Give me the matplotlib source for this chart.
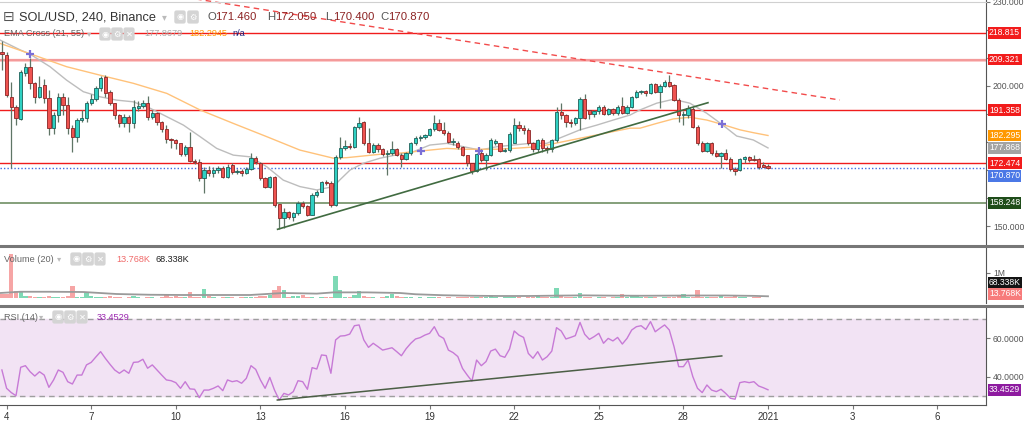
import numpy as np
import matplotlib.pyplot as plt
from matplotlib.lines import Line2D

plt.rcParams['font.family'] = ['Liberation Sans', 'DejaVu Sans']

# 4h candles, x axis is "day of December"; first candle opens Dec 3 20:00
first_candle = 3 + 20 / 24
step = 4 / 24

opens = [
    212.0, 211.0, 195.9, 192.6, 188.1, 204.4, 206.6, 200.9, 196.1, 200.3,
    195.5, 184.8, 189.6, 196.1, 193.2, 184.8, 181.9, 187.8, 188.4, 193.7,
    195.2, 199.1, 203.3, 197.9, 193.7, 189.6, 186.6, 189.0, 186.6, 192.2,
    192.8, 194.0, 188.8, 190.2, 187.2, 184.5, 180.9, 180.7, 179.5, 175.6,
    178.3, 173.3, 173.0, 167.0, 170.0, 168.8, 170.0, 170.8, 167.6, 171.8,
    169.4, 169.8, 169.0, 170.3, 174.2, 172.6, 167.0, 164.1, 167.6, 157.9,
    152.8, 155.2, 153.4, 154.6, 158.1, 157.2, 154.0, 161.1, 162.3, 165.8,
    165.5, 157.5, 174.7, 177.7, 178.7, 178.1, 185.4, 187.0, 179.7, 176.5,
    178.9, 177.4, 175.6, 176.2, 177.4, 175.4, 173.8, 175.9, 179.5, 181.3,
    181.6, 182.5, 184.5, 186.9, 184.3, 183.3, 180.1, 179.5, 178.1, 175.4,
    172.4, 169.6, 176.0, 173.6, 175.4, 179.8, 179.5, 176.9, 177.2, 179.7,
    186.0, 184.9, 184.3, 179.7, 177.4, 180.7, 177.7, 177.4, 180.7, 190.8,
    189.6, 187.2, 186.6, 188.4, 195.2, 191.4, 189.9, 191.1, 192.6, 189.9,
    191.6, 190.2, 192.8, 190.4, 192.6, 196.1, 197.9, 198.2, 197.3, 200.6,
    197.9, 199.9, 201.5, 200.3, 194.9, 189.6, 189.6, 191.7, 185.4, 179.7,
    176.9, 179.5, 175.9, 175.0, 176.2, 174.0, 170.2, 170.0, 173.8, 174.5,
    173.8, 174.0, 171.8, 171.46]
highs = [
    216.0, 212.2, 201.5, 193.0, 205.6, 208.0, 209.8, 201.5, 203.5, 202.5,
    198.5, 190.5, 197.5, 197.5, 196.0, 186.0, 188.5, 191.4, 194.5, 197.0,
    200.0, 203.5, 203.7, 198.5, 194.0, 190.0, 190.0, 189.5, 195.0, 194.5,
    195.0, 196.4, 191.5, 190.5, 187.5, 186.0, 181.5, 181.0, 179.8, 179.0,
    183.5, 174.0, 174.0, 171.0, 171.5, 171.0, 171.5, 171.5, 172.0, 172.5,
    170.5, 170.5, 171.0, 176.0, 175.0, 173.0, 167.5, 168.0, 168.0, 158.0,
    156.5, 155.5, 155.0, 158.8, 159.0, 157.5, 161.8, 163.0, 166.2, 166.5,
    166.0, 175.5, 181.9, 180.7, 179.5, 185.8, 188.8, 187.5, 184.8, 179.5,
    179.5, 178.0, 177.0, 180.5, 178.0, 176.0, 176.5, 180.0, 182.0, 182.5,
    183.0, 185.0, 189.5, 188.0, 187.0, 184.0, 181.5, 180.5, 178.5, 175.5,
    172.5, 176.0, 177.6, 176.0, 181.5, 181.0, 179.8, 178.0, 183.5, 188.5,
    187.4, 186.0, 185.0, 180.0, 181.0, 181.5, 178.5, 181.0, 192.6, 193.7,
    190.0, 188.0, 189.0, 196.0, 197.2, 191.5, 191.5, 193.0, 193.0, 192.0,
    192.0, 193.0, 196.0, 193.0, 196.5, 198.5, 198.5, 198.6, 201.0, 201.0,
    200.5, 202.0, 204.0, 200.8, 195.5, 191.0, 193.0, 192.5, 186.0, 180.5,
    180.0, 180.0, 177.0, 176.5, 177.4, 174.5, 171.0, 174.2, 175.0, 175.0,
    175.5, 174.2, 172.8, 172.05]
lows = [
    205.8, 196.1, 170.6, 186.0, 187.8, 203.5, 199.0, 193.7, 195.5, 194.0,
    182.5, 183.0, 187.0, 189.5, 183.0, 176.5, 180.0, 187.0, 187.0, 193.0,
    194.5, 198.0, 196.0, 193.0, 188.0, 185.5, 185.5, 183.5, 185.0, 191.0,
    192.0, 187.8, 188.0, 186.0, 183.5, 179.5, 178.0, 177.5, 175.0, 175.0,
    173.0, 172.0, 166.0, 161.7, 168.0, 167.5, 169.0, 167.0, 167.0, 168.5,
    168.5, 168.0, 168.5, 170.0, 172.0, 166.5, 163.5, 163.5, 157.0, 148.9,
    149.5, 152.5, 152.0, 154.0, 156.5, 153.5, 153.8, 160.5, 162.0, 164.5,
    157.0, 157.2, 174.0, 177.0, 177.5, 177.8, 184.5, 179.0, 176.0, 176.0,
    176.5, 175.0, 168.2, 175.5, 175.0, 171.1, 173.5, 175.5, 179.0, 180.5,
    181.0, 182.0, 184.0, 184.0, 182.5, 179.5, 179.0, 177.5, 175.0, 171.5,
    168.5, 169.3, 173.0, 170.0, 175.0, 179.0, 176.5, 176.5, 176.5, 179.5,
    184.0, 183.0, 179.0, 176.5, 176.5, 176.5, 176.0, 176.5, 180.0, 188.0,
    185.5, 185.5, 186.0, 184.3, 188.0, 188.0, 189.0, 190.0, 189.5, 189.5,
    189.5, 189.5, 190.0, 190.0, 192.0, 195.5, 197.0, 196.5, 197.0, 197.5,
    192.2, 199.5, 199.5, 194.5, 187.0, 186.0, 188.5, 185.0, 179.0, 176.5,
    176.5, 175.5, 174.5, 170.8, 173.5, 169.5, 168.4, 169.5, 172.5, 173.0,
    173.2, 170.5, 171.0, 170.4]
closes = [
    211.5, 196.7, 192.3, 188.4, 205.0, 206.6, 200.9, 196.1, 199.7, 195.5,
    184.8, 189.6, 196.1, 193.2, 184.8, 181.9, 187.8, 188.4, 193.7, 195.2,
    199.1, 202.7, 197.6, 193.7, 189.6, 186.6, 189.0, 186.6, 192.6, 192.8,
    194.0, 188.8, 190.4, 187.2, 184.5, 180.9, 180.7, 179.5, 175.6, 178.3,
    173.3, 173.0, 167.0, 170.0, 168.8, 170.0, 170.8, 167.6, 171.2, 169.4,
    169.8, 169.0, 170.3, 174.2, 173.0, 167.0, 164.1, 167.6, 157.5, 152.8,
    155.2, 153.4, 154.6, 158.1, 157.2, 154.0, 161.1, 162.3, 165.8, 165.5,
    157.5, 174.7, 177.7, 178.7, 178.1, 185.4, 186.6, 179.7, 176.5, 178.9,
    177.4, 175.6, 176.2, 177.4, 175.4, 173.8, 175.9, 179.5, 181.3, 181.6,
    182.5, 184.5, 186.6, 184.3, 183.3, 180.1, 180.5, 178.1, 175.4, 172.4,
    169.6, 175.7, 173.6, 175.4, 180.7, 180.3, 176.9, 177.2, 182.8, 186.0,
    184.9, 184.3, 179.7, 177.4, 180.7, 177.7, 177.4, 180.7, 190.8, 189.6,
    187.2, 186.6, 188.4, 195.2, 188.4, 189.9, 191.1, 192.6, 189.9, 191.6,
    190.2, 192.6, 190.4, 192.6, 196.1, 197.9, 198.2, 197.3, 200.6, 197.9,
    199.9, 201.5, 200.0, 194.9, 189.6, 189.9, 192.0, 185.4, 179.7, 176.9,
    179.5, 175.9, 175.0, 176.2, 174.0, 170.2, 169.8, 173.8, 174.5, 173.6,
    173.6, 171.0, 171.2, 170.87]
# volume in thousands
volumes = [
    180, 170, 1760, 270, 240, 90, 70, 40, 30, 50,
    70, 40, 30, 40, 70, 470, 30, 40, 200, 90,
    40, 30, 40, 90, 40, 30, 20, 30, 90, 30,
    20, 40, 30, 20, 60, 170, 30, 70, 40, 30,
    230, 60, 50, 360, 90, 30, 20, 30, 40, 30,
    20, 30, 40, 60, 40, 90, 90, 120, 330, 470,
    330, 60, 90, 90, 120, 40, 40, 20, 40, 30,
    60, 890, 330, 40, 50, 130, 270, 90, 40, 30,
    20, 30, 90, 170, 90, 60, 30, 40, 20, 30,
    20, 30, 60, 40, 20, 30, 20, 30, 40, 60,
    60, 50, 30, 40, 80, 30, 20, 30, 40, 50,
    30, 20, 30, 40, 80, 30, 40, 40, 400, 100,
    40, 30, 40, 200, 60, 30, 20, 30, 40, 20,
    30, 30, 160, 40, 130, 130, 40, 30, 40, 30,
    20, 40, 40, 60, 130, 160, 40, 40, 330, 60,
    40, 30, 40, 110, 30, 40, 90, 40, 30, 20,
    30, 30, 20, 13.768]
rsi = [
    43.6, 34.2, 32.0, 30.4, 45.0, 45.8, 42.7, 40.5, 42.7, 41.0,
    34.7, 38.5, 43.6, 42.4, 37.6, 36.4, 41.0, 41.0, 46.2, 47.5,
    50.3, 53.0, 49.6, 46.5, 43.6, 41.9, 43.6, 41.9, 47.5, 47.7,
    49.1, 44.5, 46.2, 43.6, 41.0, 38.5, 38.1, 37.1, 34.2, 37.6,
    33.9, 33.7, 29.4, 33.3, 33.3, 34.2, 35.4, 33.0, 38.5, 37.6,
    38.1, 36.8, 39.3, 45.8, 43.9, 38.5, 34.2, 39.8, 33.3, 28.2,
    31.6, 30.8, 32.5, 38.1, 37.6, 33.7, 44.8, 44.1, 51.3, 51.0,
    41.9, 59.0, 61.0, 61.2, 62.0, 66.3, 66.7, 59.0, 55.2, 57.3,
    55.6, 53.8, 54.4, 55.0, 53.0, 50.9, 54.5, 57.3, 59.5, 60.2,
    61.5, 62.4, 65.8, 61.2, 59.8, 53.8, 52.5, 50.5, 44.4, 41.0,
    37.9, 48.7, 45.8, 47.9, 53.3, 54.3, 50.9, 50.1, 54.3, 63.6,
    61.5, 60.3, 52.1, 49.6, 53.0, 48.7, 50.4, 53.3, 65.3, 63.6,
    59.5, 60.3, 61.2, 68.0, 61.9, 59.3, 60.7, 62.4, 57.3, 59.8,
    58.5, 60.3, 56.9, 59.8, 64.1, 65.8, 66.3, 64.4, 68.4, 63.2,
    65.0, 66.7, 64.1, 55.6, 45.3, 45.3, 48.7, 40.2, 34.2, 32.0,
    35.9, 33.3, 32.5, 33.7, 31.6, 29.1, 28.6, 37.1, 37.6, 37.1,
    37.6, 35.4, 34.5, 33.45]

# EMA lines (day, price)
ema21_days = [3.77, 4.48, 4.83, 5.54, 6.13, 6.72, 7.31, 7.90, 8.49, 9.09, 9.68,
              10.27, 10.86, 11.45, 12.04, 12.63, 13.22, 13.81, 14.40, 15.00,
              15.59, 15.82, 16.18, 16.65, 17.24, 17.83, 18.42, 19.01, 19.61,
              20.20, 20.79, 21.38, 21.97, 22.56, 23.15, 23.74, 24.33, 24.93,
              25.51, 26.11, 26.46, 27.05, 27.64, 28.23, 28.83, 29.36, 29.89,
              30.48, 31.0]
ema21_vals = [216.3, 212.8, 211.3, 206.8, 202.0, 197.9, 196.1, 194.9, 194.3,
              192.0, 189.0, 186.0, 181.9, 177.7, 175.3, 174.7, 171.2, 166.4,
              164.1, 162.9, 164.1, 166.5, 170.0, 172.4, 174.2, 175.4, 176.5,
              178.9, 179.5, 178.3, 177.1, 178.3, 178.9, 179.5, 179.5, 181.9,
              184.3, 186.0, 187.8, 189.6, 191.4, 193.8, 195.2, 193.8, 190.2,
              186.3, 182.1, 180.7, 177.868]
ema55_days = [3.77, 4.95, 6.13, 7.31, 8.49, 9.68, 10.86, 12.04, 13.22, 14.40,
              15.59, 16.06, 16.65, 17.24, 17.83, 18.42, 19.01, 19.61, 20.20,
              20.79, 21.38, 21.97, 22.56, 23.15, 23.74, 24.33, 24.93, 25.51,
              26.11, 26.46, 27.05, 27.64, 28.23, 28.83, 29.36, 30.01, 30.48,
              31.0]
ema55_vals = [215.1, 211.0, 206.8, 203.8, 200.9, 197.3, 191.4, 186.6, 181.9,
              177.1, 174.2, 174.4, 175.0, 175.6, 175.9, 176.5, 177.1, 177.7,
              177.4, 177.4, 177.4, 177.7, 178.1, 178.9, 180.1, 181.3, 182.5,
              183.7, 184.9, 184.9, 186.6, 188.2, 188.8, 187.8, 186.3, 184.3,
              183.3, 182.295]
cross_days = [4.83, 18.68, 20.74, 29.36]
cross_vals = [211.3, 176.9, 176.9, 186.3]

vol_ma_days = [3.77, 4.48, 5.54, 6.72, 7.31, 7.90, 9.09, 10.27, 11.45, 12.63,
               13.22, 13.81, 15.0, 15.59, 16.77, 17.95, 18.5, 19.5, 20.5, 21.5,
               22.5, 23.5, 24.5, 25.5, 26.5, 27.5, 28.5, 29.5, 30.5, 31.0]
vol_ma_vals = [200, 250, 250, 240, 200, 160, 130, 120, 120, 120, 160, 200, 175,
               225, 225, 200, 150, 110, 90, 80, 80, 95, 105, 95, 90, 95, 100,
               100, 85, 68.338]

# drawings
red_levels = [218.815, 209.321, 191.358, 172.474]
support_level = 158.248
last_price = 170.870
ema21_last = 177.868
ema55_last = 182.295
rsi_last = 33.4529
down_trend_days = [9.085, 33.55]
down_trend_vals = [233.5, 194.94]
up_trend_days = [13.61, 28.87]
up_trend_vals = [148.88, 193.98]
rsi_trend_days = [13.6, 29.36]
rsi_trend_vals = [28.2, 50.8]

price_ticks = [150, 160, 170, 180, 190, 200, 210, 220, 230]
shown_price_ticks = [150, 200, 230]   # the rest sit under the price tags
tick_days = [4, 7, 10, 13, 16, 19, 22, 25, 28, 31, 34, 37]
tick_labels = ['4', '7', '10', '13', '16', '19', '22', '25', '28', '2021', '3', '6']

W, H = 1024, 425
fig = plt.figure(figsize=(W / 100, H / 100), dpi=100)
fig.patch.set_facecolor('white')


def px_axes(x0, y0, x1, y1):
    return fig.add_axes([x0 / W, 1 - y1 / H, (x1 - x0) / W, (y1 - y0) / H])


def fig_text(x, y, s, **kw):
    fig.text(x / W, 1 - y / H, s, va='center', ha='left', **kw)


def icon(x, y, glyph):
    fig.text(x / W, 1 - y / H, glyph, va='center', ha='center', fontsize=6,
             color='white', family='DejaVu Sans',
             bbox=dict(boxstyle='round,pad=0.25', fc='#d4d4d4', ec='none'))


def tag(ax, y, s, bg, fg='white', coords='data'):
    ax.annotate(s, xy=(1, y), xycoords=('axes fraction', coords),
                xytext=(2.2, 0), textcoords='offset points', ha='left',
                va='center', fontsize=6.2, color=fg, zorder=10,
                bbox=dict(boxstyle='square,pad=0.15', fc=bg, ec='none'),
                annotation_clip=False)


def style(ax):
    for s in ['top', 'left', 'bottom']:
        ax.spines[s].set_visible(False)
    ax.spines['right'].set_color('#555555')
    ax.spines['right'].set_linewidth(0.8)
    ax.yaxis.tick_right()
    ax.tick_params(axis='y', labelsize=6.2, labelcolor='#555555',
                   color='#777777', length=3, pad=2)
    ax.tick_params(axis='x', bottom=False, labelbottom=False)
    ax.set_xlim(3.766, 38.73)


o = np.array(opens)
h = np.array(highs)
lo = np.array(lows)
c = np.array(closes)
days = first_candle + step * np.arange(len(c))
up = c >= o

# ---------- price pane ----------
ax = px_axes(0, 0, 986, 244)
style(ax)
ax.set_ylim(143.64, 230.57)
ax.set_yticks(price_ticks)
ax.set_yticklabels([f'{v:.3f}' if v in shown_price_ticks else ''
                    for v in price_ticks])

for lv in red_levels:
    ax.axhline(lv, color='#f01c1c', lw=1, zorder=1)
ax.axhline(red_levels[1], color='#f49a9a', lw=1.6, zorder=1)
ax.axhline(support_level, color='#6f8f63', lw=1.2, zorder=1)
ax.axhline(last_price, color='#4169e1', lw=1, ls=(0, (1, 1.5)), zorder=1)

ax.plot(ema21_days, ema21_vals, color='#bdbdbd', lw=1, zorder=2)
ax.plot(ema55_days, ema55_vals, color='#ffc27a', lw=1, zorder=2)

ax.plot(down_trend_days, down_trend_vals, color='#f24b4b', lw=1,
        ls=(0, (4, 3)), zorder=2)
ax.plot(up_trend_days, up_trend_vals, color='#416b41', lw=1.2, zorder=4)

body_lo = np.minimum(o, c)
body_h = np.maximum(np.abs(c - o), 0.3)
ax.vlines(days, lo, h, color='#5f7566', lw=0.9, zorder=3)
ax.bar(days[up], body_h[up], bottom=body_lo[up], width=0.115,
       color='#2fd0c2', edgecolor='#1f5f58', lw=0.6, zorder=3)
ax.bar(days[~up], body_h[~up], bottom=body_lo[~up], width=0.115,
       color='#ef5350', edgecolor='#8b2424', lw=0.6, zorder=3)

ax.plot(cross_days, cross_vals, ls='none', marker='+', ms=6, mew=1.6,
        color='#7b6fd6', zorder=5)

for lv in red_levels:
    tag(ax, lv, f'{lv:.3f}', '#f21c1c')
tag(ax, ema55_last, f'{ema55_last:.3f}', '#ff9800')
tag(ax, ema21_last, f'{ema21_last:.3f}', '#a3a3a3')
tag(ax, last_price - 3.0, f'{last_price:.3f}', '#4b78e6')
tag(ax, support_level, f'{support_level:.3f}', '#1f4d1a')

# ---------- volume pane ----------
axv = px_axes(0, 247, 986, 303)
style(axv)
axv.set_ylim(-200, 2040)
v = np.array(volumes)
axv.bar(days[up], v[up], width=step * 0.9, color='#7ed9b5', zorder=2)
axv.bar(days[~up], v[~up], width=step * 0.9, color='#f6a5a5', zorder=2)
axv.plot(vol_ma_days, vol_ma_vals, color='#9a9a9a', lw=1.3, zorder=3)
axv.set_yticks([1000])
axv.set_yticklabels(['1M'])
tag(axv, 0.36, '68.338K', '#141414', coords='axes fraction')
tag(axv, 0.165, '13.768K', '#f77b7b', coords='axes fraction')

# ---------- RSI pane ----------
axr = px_axes(0, 307, 986, 405)
style(axr)
axr.set_ylim(25.64, 75.9)
axr.axhspan(30, 70, color='#f2e3f4', zorder=0)
axr.axhline(70, color='#9e9e9e', lw=1, ls=(0, (4, 3)), zorder=1)
axr.axhline(30, color='#9e9e9e', lw=1, ls=(0, (4, 3)), zorder=1)
axr.plot(days, rsi, color='#c77ad6', lw=1, zorder=3)
axr.plot(rsi_trend_days, rsi_trend_vals, color='#4b5e45', lw=1.1, zorder=4)
axr.set_yticks([40, 60])
axr.set_yticklabels(['40.0000', '60.0000'])
tag(axr, rsi_last, f'{rsi_last:.4f}', '#8e1ba0')
axr.spines['bottom'].set_visible(True)
axr.spines['bottom'].set_color('#555555')
axr.spines['bottom'].set_linewidth(0.8)
axr.set_xticks(tick_days)
axr.set_xticklabels(tick_labels)
axr.tick_params(axis='x', bottom=True, labelbottom=True, labelsize=7,
                labelcolor='#333333', color='#777777', length=3, pad=2)

# pane separators
for yp in [245.5, 305.5]:
    fig.add_artist(Line2D([0, 1], [1 - yp / H, 1 - yp / H],
                          transform=fig.transFigure, color='#777777', lw=2.2))
fig.add_artist(Line2D([0, 986 / W], [1 - 1.5 / H, 1 - 1.5 / H],
                      transform=fig.transFigure, color='#d0d0d0', lw=0.8))

# ---------- legends ----------
fig_text(3, 17, '\u229f', fontsize=10, color='#555555', family='DejaVu Sans')
fig_text(19, 17, 'SOL/USD, 240, Binance', fontsize=9.2, color='#333333')
fig_text(162, 17, '\u25be', fontsize=7, color='#bbbbbb', family='DejaVu Sans')
icon(180, 17, '\u25c9')
icon(193, 17, '\u2699')
ohlc = [('O', '171.460', 207), ('H', '172.050', 267), ('L', '170.400', 325),
        ('C', '170.870', 380)]
for letter, val, xp in ohlc:
    fig_text(xp, 17, letter, fontsize=8.2, color='#555555')
    fig_text(xp + 8.5, 17, val, fontsize=8.2, color='#8c2323')

fig_text(4, 34, 'EMA Cross (21, 55)', fontsize=6.6, color='#666666')
fig_text(87, 34, '\u25be', fontsize=6, color='#bbbbbb', family='DejaVu Sans')
icon(105, 34, '\u25c9')
icon(117, 34, '\u2699')
icon(129, 34, '\u2715')
fig_text(144, 34, '177.8679', fontsize=6.6, color='#a8a8a8')
fig_text(189, 34, '182.2945', fontsize=6.6, color='#ff9800')
fig_text(232, 34, 'n/a', fontsize=6.6, color='#1a237e')

fig_text(4, 259, 'Volume (20)', fontsize=6.6, color='#666666')
fig_text(57, 259, '\u25be', fontsize=6, color='#bbbbbb', family='DejaVu Sans')
icon(76, 259, '\u25c9')
icon(88, 259, '\u2699')
icon(100, 259, '\u2715')
fig_text(116, 259, '13.768K', fontsize=6.6, color='#f06a6a')
fig_text(156, 259, '68.338K', fontsize=6.6, color='#222222')

fig_text(4, 317, 'RSI (14)', fontsize=6.6, color='#666666')
fig_text(39, 317, '\u25be', fontsize=6, color='#bbbbbb', family='DejaVu Sans')
icon(58, 317, '\u25c9')
icon(70, 317, '\u2699')
icon(82, 317, '\u2715')
fig_text(97, 317, '33.4529', fontsize=6.6, color='#9c27b0')

fig.savefig('out.png', dpi=100)
